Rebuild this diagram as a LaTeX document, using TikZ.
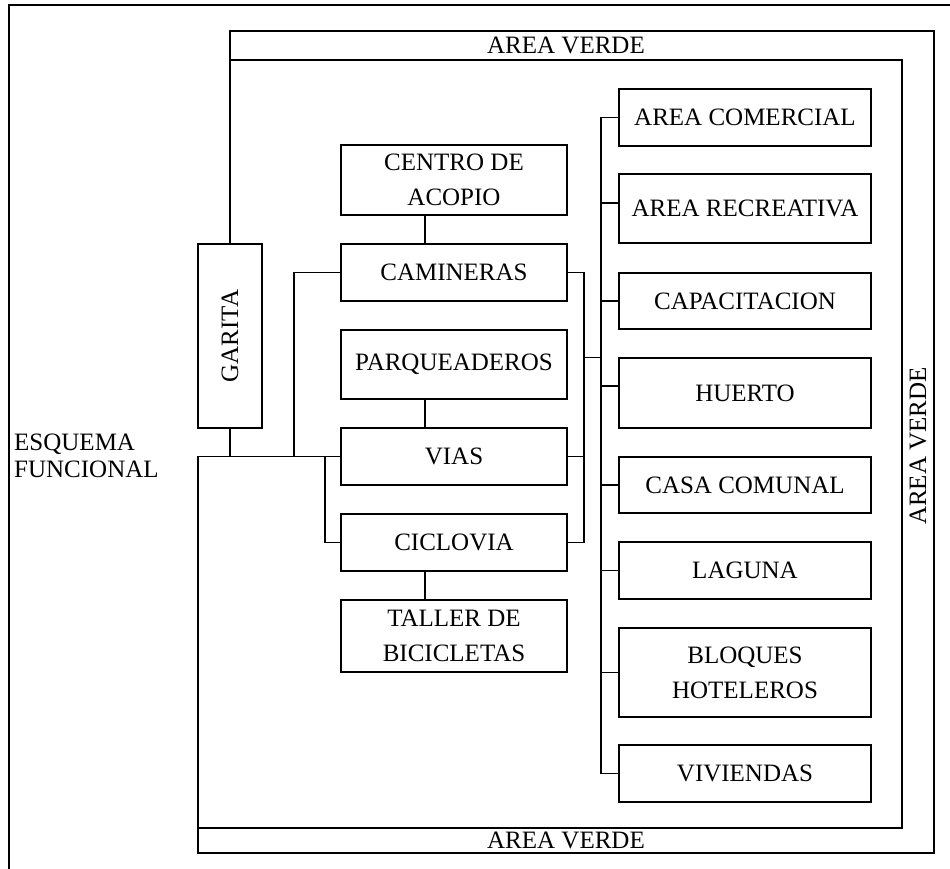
\documentclass[tikz,border=0pt]{standalone}
\usepackage{fontspec}
\setmainfont{Liberation Serif}
\begin{document}
\begin{tikzpicture}[x=1pt,y=-1pt,
  wire/.style={line width=1.4pt, line join=miter},
  box/.style={draw, line width=1.4pt, inner sep=0pt, align=center, font=\fontsize{25}{35}\selectfont},
  lbox/.style={box, minimum width=226pt},
  rbox/.style={box, minimum width=252pt},
  lbl/.style={inner sep=0pt, font=\fontsize{25}{27}\selectfont}]
\useasboundingbox (0,0) rectangle (950,869);
% page frame
\coordinate (pgBL) at (9,872);
\coordinate (pgTL) at (9,5);
\coordinate (pgTR) at (953,5);
\draw[wire, line width=1.2pt] (pgBL) -- (pgTL) -- (pgTR);
% left column
\node[lbox, minimum height=70pt] (centro) at (454,180) {CENTRO DE\\ACOPIO};
\node[lbox, minimum height=57pt] (camineras) at (454,272.5) {CAMINERAS};
\node[lbox, minimum height=69pt] (parq) at (454,364.5) {PARQUEADEROS};
\node[lbox, minimum height=57pt] (vias) at (454,456.5) {VIAS};
\node[lbox, minimum height=57pt] (ciclo) at (454,542.5) {CICLOVIA};
\node[lbox, minimum height=72pt] (taller) at (454,636) {TALLER DE\\BICICLETAS};
\node[box, minimum width=64pt, minimum height=184pt] (garita) at (230,336) {\rotatebox{90}{GARITA}};
% right column
\node[rbox, minimum height=57pt] (comercial) at (745,117.5) {AREA COMERCIAL};
\node[rbox, minimum height=69pt] (recre) at (745,208.5) {AREA RECREATIVA};
\node[rbox, minimum height=56pt] (capa) at (745,301) {CAPACITACION};
\node[rbox, minimum height=70pt] (huerto) at (745,393) {HUERTO};
\node[rbox, minimum height=56pt] (casa) at (745,485) {CASA COMUNAL};
\node[rbox, minimum height=57pt] (laguna) at (745,570.5) {LAGUNA};
\node[rbox, minimum height=89pt] (bloques) at (745,672.5) {BLOQUES\\HOTELEROS};
\node[rbox, minimum height=57pt] (viv) at (745,773.5) {VIVIENDAS};
% labels
\node[lbl] (avT) at (566,45.5) {AREA VERDE};
\node[lbl] (avB) at (566,840.5) {AREA VERDE};
\node[lbl, rotate=90] (avR) at (918,446) {AREA VERDE};
\node[lbl, anchor=north west, align=left] (esq) at (14,434) {ESQUEMA\\FUNCIONAL};
% green area frames
\coordinate (oTL) at (230,31);
\coordinate (oTR) at (934,31);
\coordinate (oBR) at (934,853);
\coordinate (oBL) at (198,853);
\coordinate (iTL) at (230,60);
\coordinate (iTR) at (902,60);
\coordinate (iBR) at (902,828);
\coordinate (iBL) at (198,828);
\coordinate (jL) at (198,456.5);
\draw[wire] (garita.north) -- (oTL) -- (oTR) -- (oBR) -- (oBL) -- (jL) -- (vias.west);
\draw[wire] (iTL) -- (iTR) -- (iBR) -- (iBL);
% left connectors
\draw[wire] (garita.south) -- (garita.south |- jL);
\coordinate (jC) at (294,456.5);
\coordinate (jV) at (325,456.5);
\draw[wire] (jC) |- (camineras.west);
\draw[wire] (jV) |- (ciclo.west);
\draw[wire] ([xshift=-29pt]centro.south) -- ([xshift=-29pt]camineras.north);
\draw[wire] ([xshift=-29pt]parq.south) -- ([xshift=-29pt]vias.north);
\draw[wire] ([xshift=-29pt]ciclo.south) -- ([xshift=-29pt]taller.north);
% right connectors of left column
\coordinate (rb) at (584,357.5);
\coordinate (bus) at (601,357.5);
\draw[wire] (camineras.east) -| (rb) |- (ciclo.east);
\draw[wire] (vias.east) -- (vias.east -| rb);
\draw[wire] (rb) -- (bus);
% main bus
\draw[wire] (comercial.west) -| (bus) |- (viv.west);
\draw[wire] ([yshift=5.5pt]recre.west) -- ([yshift=5.5pt]recre.west -| bus);
\draw[wire] (capa.west) -- (capa.west -| bus);
\draw[wire] ([yshift=7pt]huerto.west) -- ([yshift=7pt]huerto.west -| bus);
\draw[wire] (casa.west) -- (casa.west -| bus);
\draw[wire] (laguna.west) -- (laguna.west -| bus);
\draw[wire] (bloques.west) -- (bloques.west -| bus);
\end{tikzpicture}
\end{document}
